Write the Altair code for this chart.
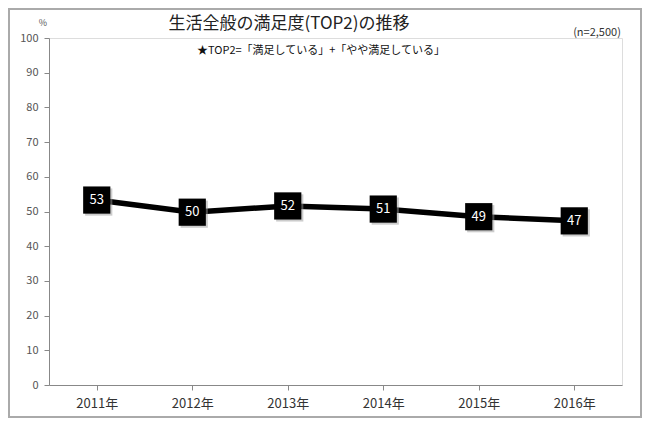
import altair as alt
import pandas as pd

years = ["2011年", "2012年", "2013年", "2014年", "2015年", "2016年"]
values = [53.3, 49.8, 51.6, 50.7, 48.5, 47.3]
labels = ["53", "50", "52", "51", "49", "47"]

title_text = "生活全般の満足度(TOP2)の推移"
sub_text = "★TOP2=「満足している」+「やや満足している」"
n_text = "(n=2,500)"
unit_text = "%"

FONT = "Noto Sans CJK JP"

df = pd.DataFrame({"year": years, "value": values, "label": labels})

x = alt.X("year:N", sort=years, title=None,
          scale=alt.Scale(type="point", padding=0.5),
          axis=alt.Axis(labelAngle=0, labelFontSize=13, labelColor="#333",
                        labelPadding=7, tickSize=5, domainColor="#888",
                        tickColor="#888", labelFont=FONT))
y = alt.Y("value:Q", title=None,
          scale=alt.Scale(domain=[0, 100], nice=False),
          axis=alt.Axis(values=list(range(0, 101, 10)), grid=False,
                        labelFontSize=11, labelColor="#555", tickSize=5,
                        domainColor="#888", tickColor="#888", labelPadding=6,
                        labelFont=FONT))

base = alt.Chart(df)

line = base.mark_line(color="black", strokeWidth=5.5).encode(x=x, y=y)
shadow = base.mark_square(size=740, color="#999", opacity=0.5,
                          xOffset=2, yOffset=2).encode(x=x, y=y)
squares = base.mark_square(size=740, color="black", opacity=1).encode(x=x, y=y)
texts = base.mark_text(color="white", fontSize=13, font=FONT).encode(
    x=x, y=y, text="label:N")

def txt(s, xv, yv, size, color="#222", align="center"):
    return alt.Chart(pd.DataFrame({"t": [s]})).mark_text(
        fontSize=size, color=color, font=FONT, align=align
    ).encode(text="t:N", x=alt.value(xv), y=alt.value(yv))

border = alt.Chart(pd.DataFrame({"a": [0]})).mark_rect(
    fill=None, stroke="#aaa", strokeWidth=2
).encode(x=alt.value(-40), x2=alt.value(592), y=alt.value(-29), y2=alt.value(379))

chart = alt.layer(
    border,
    line, shadow, squares, texts,
    txt(title_text, 240, -14, 17, "#222"),
    txt(sub_text, 272, 13, 11, "#111"),
    txt(n_text, 548, -5, 11, "#333"),
    txt(unit_text, -6, -15, 9, "#555"),
).properties(
    width=573, height=347,
    padding={"left": 41, "top": 30, "right": 20, "bottom": 34},
    autosize=alt.AutoSizeParams(type="none"),
).configure_view(stroke=None).configure(background="white")

chart.save("out.html", embed_options={"renderer": "svg", "actions": False})
